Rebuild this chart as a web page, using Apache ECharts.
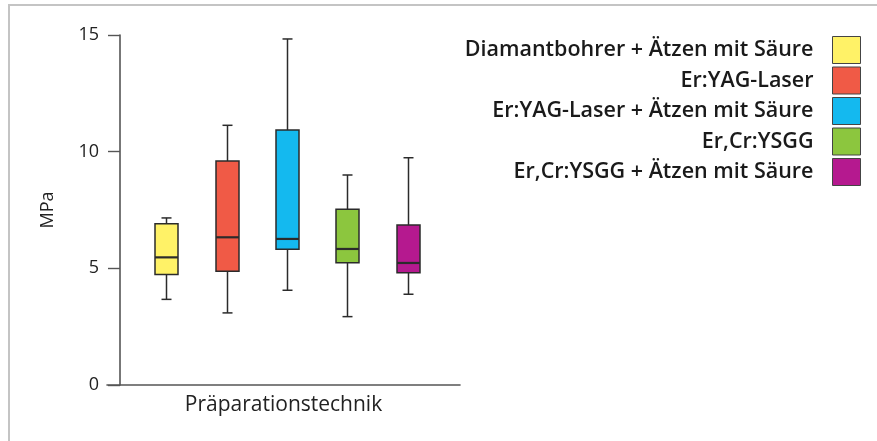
<!DOCTYPE html>
<html>
<head>
<meta charset="utf-8">
<script src="https://cdn.jsdelivr.net/npm/echarts@6/dist/echarts.min.js"></script>
<style>
  html, body { margin: 0; padding: 0; background: #fff; }
  #frame { position: absolute; left: 8px; top: 4px; width: 869px; height: 437px; border-left: 2px solid #c4c4c4; border-top: 2px solid #c4c4c4; box-sizing: border-box; }
  #chart { position: absolute; left: 0; top: 0; width: 877px; height: 441px; }
</style>
</head>
<body>
<div id="frame"></div>
<div id="chart"></div>
<script>
const categories = [
  'Diamantbohrer + Ätzen mit Säure',
  'Er:YAG-Laser',
  'Er:YAG-Laser + Ätzen mit Säure',
  'Er,Cr:YSGG',
  'Er,Cr:YSGG + Ätzen mit Säure'
];
// [min, Q1, median, Q3, max] in MPa
const diamantbohrer = [3.67, 4.74, 5.47, 6.91, 7.16];
const erYag = [3.09, 4.87, 6.33, 9.60, 11.13];
const erYagAetzen = [4.06, 5.82, 6.26, 10.93, 14.83];
const erCrYsgg = [2.93, 5.24, 5.83, 7.53, 9.00];
const erCrYsggAetzen = [3.89, 4.81, 5.23, 6.86, 9.74];
const seriesValues = [diamantbohrer, erYag, erYagAetzen, erCrYsgg, erCrYsggAetzen];
const colors = ['#fff267', '#f05a46', '#14b9ef', '#8cc63e', '#b5198f'];
const yTicks = [0, 5, 10, 15];

const FONT = '"Open Sans", "Noto Sans", sans-serif';
const STROKE = '#2b2b2b';

function renderBox(params, api) {
  const xi = api.value(0);
  const vals = [api.value(1), api.value(2), api.value(3), api.value(4), api.value(5)];
  const pts = vals.map(v => api.coord([xi, v]));
  const cx = Math.round(pts[0][0]) + 0.5;
  const yMin = pts[0][1], yQ1 = pts[1][1], yMed = pts[2][1], yQ3 = pts[3][1], yMax = pts[4][1];
  const bw = 23, cw = 10;
  const lineStyle = { stroke: STROKE, lineWidth: 1.5 };
  return {
    type: 'group',
    children: [
      { type: 'line', shape: { x1: cx, y1: yMax, x2: cx, y2: yQ3 }, style: lineStyle },
      { type: 'line', shape: { x1: cx, y1: yQ1, x2: cx, y2: yMin }, style: lineStyle },
      { type: 'line', shape: { x1: cx - cw / 2, y1: yMax, x2: cx + cw / 2, y2: yMax }, style: lineStyle },
      { type: 'line', shape: { x1: cx - cw / 2, y1: yMin, x2: cx + cw / 2, y2: yMin }, style: lineStyle },
      { type: 'rect', shape: { x: cx - bw / 2, y: yQ3, width: bw, height: yQ1 - yQ3 },
        style: { fill: api.visual('color'), stroke: STROKE, lineWidth: 1.5 } },
      { type: 'line', shape: { x1: cx - bw / 2, y1: yMed, x2: cx + bw / 2, y2: yMed },
        style: { stroke: STROKE, lineWidth: 2.2 } }
    ]
  };
}

const series = categories.map((name, i) => ({
  name: name,
  type: 'custom',
  xAxisIndex: 0,
  yAxisIndex: 0,
  renderItem: renderBox,
  itemStyle: { color: colors[i] },
  encode: { x: 0, y: [1, 2, 3, 4, 5] },
  data: [[i].concat(seriesValues[i])]
}));

const chart = echarts.init(document.getElementById('chart'), null, { renderer: 'canvas' });
chart.setOption({
  animation: false,
  backgroundColor: 'transparent',
  grid: [
    { left: 136, width: 302, top: 35, bottom: 56 },
    { left: 120, width: 340, top: 35, bottom: 56 },
    { left: 107, width: 353, top: 35, bottom: 56 }
  ],
  xAxis: [
    { gridIndex: 0, type: 'category', data: categories, show: false },
    { gridIndex: 1, type: 'value', min: 0, max: 1, show: false },
    { gridIndex: 2, type: 'value', min: 0, max: 1,
      axisLine: { show: true, lineStyle: { color: '#555', width: 1.6 } },
      axisTick: { show: false }, axisLabel: { show: false }, splitLine: { show: false },
      name: 'Präparationstechnik', nameLocation: 'middle', nameGap: 10,
      nameTextStyle: { fontFamily: FONT, fontSize: 21, color: '#222' } }
  ],
  yAxis: [
    { gridIndex: 0, type: 'value', min: 0, max: 15, show: false },
    { gridIndex: 1, type: 'value', min: 0, max: 15, interval: 5,
      axisLine: { show: true, lineStyle: { color: '#555', width: 1.6 } },
      axisTick: { show: true, inside: false, length: 12, lineStyle: { color: '#555', width: 1.4 } },
      axisLabel: { margin: 21, fontFamily: FONT, fontSize: 18, color: '#222',
        formatter: v => (yTicks.indexOf(v) >= 0 ? String(v) : '') },
      splitLine: { show: false },
      name: 'MPa', nameLocation: 'middle', nameRotate: 90, nameGap: 63,
      nameTextStyle: { fontFamily: FONT, fontSize: 18, color: '#222' } },
    { gridIndex: 2, type: 'value', min: 0, max: 1, show: false }
  ],
  legend: {
    orient: 'vertical',
    right: 16,
    top: 36,
    padding: 0,
    align: 'right',
    itemWidth: 28,
    itemHeight: 27,
    itemGap: 2.5,
    selectedMode: false,
    icon: 'rect',
    itemStyle: { borderColor: '#444', borderWidth: 1 },
    textStyle: { fontFamily: FONT, fontSize: 21.5, fontWeight: 600, color: '#1a1a1a', padding: [0, 14, 0, 0] },
    data: categories
  },
  series: series
});
</script>
</body>
</html>
